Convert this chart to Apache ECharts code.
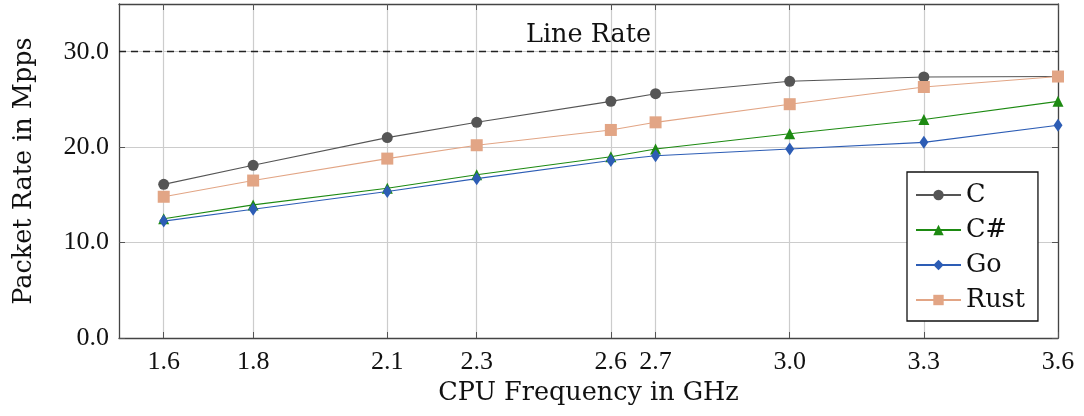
<!DOCTYPE html>
<html><head><meta charset="utf-8">
<script src="https://cdn.jsdelivr.net/npm/echarts@6/dist/echarts.min.js"></script>
<style>html,body{margin:0;padding:0;background:#fff}#c{width:1084px;height:416px}</style>
</head><body><div id="c"></div>
<script>
const freqs = [1.6, 1.8, 2.1, 2.3, 2.6, 2.7, 3.0, 3.3, 3.6];
const xTicks = [1.6, 1.8, 2.1, 2.3, 2.6, 2.7, 3.0, 3.3, 3.6];
const yTicks = [0, 10, 20, 30];
const cVals    = [16.1, 18.1, 21.0, 22.6, 24.8, 25.6, 26.9, 27.35, 27.4];
const csVals   = [12.5, 13.95, 15.7, 17.1, 19.0, 19.8, 21.4, 22.9, 24.8];
const goVals   = [12.25, 13.5, 15.35, 16.7, 18.6, 19.1, 19.8, 20.5, 22.3];
const rustVals = [14.8, 16.5, 18.8, 20.2, 21.8, 22.6, 24.5, 26.3, 27.4];
const lineRate = 30;

const NUMFONT = 'Liberation Serif';
const TXTFONT = 'DejaVu Serif';
const TXTSIZE = 25.5;
const pair = v => freqs.map((f, i) => [f, v[i]]);
const chart = echarts.init(document.getElementById('c'), null, {renderer: 'canvas'});

const tickStyle = {inside: true, length: 6, lineStyle: {color: '#555', width: 1}};
function mk(name, data, color, symbol, size) {
  return {
    name, type: 'line', data: pair(data), symbol, symbolSize: size,
    showSymbol: true,
    lineStyle: {color, width: 1.1}, itemStyle: {color, borderWidth: 0},
    emphasis: {disabled: true}, animation: false, z: 3
  };
}
const series = [
  mk('C', cVals, '#555555', 'circle', 11),
  mk('C#', csVals, '#1d8a12', 'triangle', 11),
  mk('Go', goVals, '#2d5db5', 'diamond', [9, 13]),
  mk('Rust', rustVals, '#e2a585', 'rect', 12)
];
series[0].markLine = {
  silent: true, symbol: 'none', animation: false,
  lineStyle: {color: '#222', type: [7, 5], width: 1.4},
  label: {show: true, position: 'middle', formatter: 'Line Rate', color: '#111', fontFamily: TXTFONT, fontSize: TXTSIZE, distance: 3},
  data: [{yAxis: lineRate}]
};

const axLine = {show: true, onZero: false, lineStyle: {color: '#444', width: 1.3}};
chart.setOption({
  animation: false,
  grid: {left: 119, right: 26, top: 4, bottom: 78, show: false},
  legend: {
    orient: 'vertical', left: 907, top: 172,
    backgroundColor: '#fff', borderColor: '#111', borderWidth: 1.3, borderRadius: 0,
    padding: [10, 13, 8, 8],
    itemWidth: 45, itemHeight: 13, itemGap: 9,
    textStyle: {fontFamily: TXTFONT, fontSize: TXTSIZE, color: '#111', lineHeight: 25},
    data: ['C', 'C#', 'Go', 'Rust']
  },
  xAxis: [{
    type: 'value', min: 1.5, max: 3.6, position: 'bottom',
    name: 'CPU Frequency in GHz', nameLocation: 'middle', nameGap: 42,
    nameTextStyle: {fontFamily: TXTFONT, fontSize: TXTSIZE, color: '#111'},
    axisLine: axLine,
    axisTick: Object.assign({customValues: xTicks}, tickStyle),
    axisLabel: {customValues: xTicks, fontFamily: NUMFONT, fontSize: 26, color: '#111', margin: 11, formatter: v => v.toFixed(1)},
    splitLine: {show: true, lineStyle: {color: '#cccccc', width: 1.2}}
  }, {
    type: 'value', min: 1.5, max: 3.6, position: 'top',
    axisLine: axLine,
    axisTick: Object.assign({customValues: xTicks}, tickStyle),
    axisLabel: {show: false}, splitLine: {show: false}
  }],
  yAxis: [{
    type: 'value', min: 0, max: 35, interval: 10, position: 'left',
    name: 'Packet Rate in Mpps', nameLocation: 'middle', nameGap: 82, nameRotate: 90,
    nameTextStyle: {fontFamily: TXTFONT, fontSize: TXTSIZE, color: '#111'},
    axisLine: axLine,
    axisTick: Object.assign({customValues: yTicks}, tickStyle),
    axisLabel: {customValues: yTicks, fontFamily: NUMFONT, fontSize: 26, color: '#111', margin: 10, formatter: v => v.toFixed(1)},
    splitLine: {show: true, lineStyle: {color: '#cccccc', width: 1.2}}
  }, {
    type: 'value', min: 0, max: 35, interval: 10, position: 'right',
    axisLine: axLine,
    axisTick: Object.assign({customValues: yTicks}, tickStyle),
    axisLabel: {show: false}, splitLine: {show: false}
  }],
  series
});
</script></body></html>
